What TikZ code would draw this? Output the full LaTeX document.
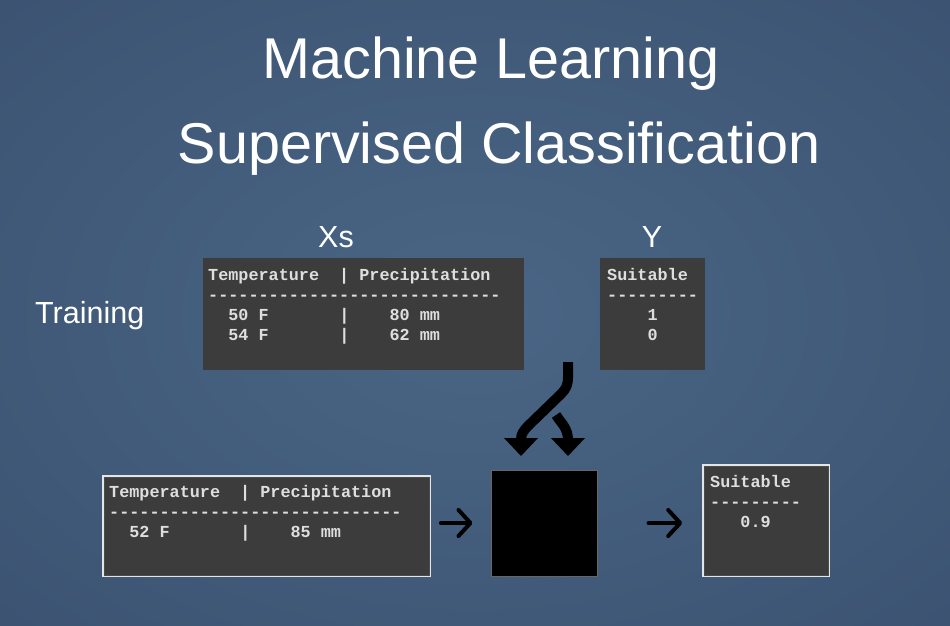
\documentclass[tikz,border=0pt]{standalone}
\usepackage{fontspec}
\setmainfont{Liberation Sans}
\newfontfamily\tabfont{Liberation Mono}[Ligatures=TeXOff]
\usetikzlibrary{arrows.meta}
\definecolor{bgin}{RGB}{74,101,133}
\definecolor{bgmid}{RGB}{60,84,114}
\definecolor{bgout}{RGB}{46,67,94}
\definecolor{tabfill}{RGB}{60,60,60}
\definecolor{tabtxt}{RGB}{222,222,222}
\pgfdeclareradialshading{bgshade}{\pgfpoint{0bp}{0bp}}{color(0bp)=(bgin); color(35bp)=(bgmid); color(72bp)=(bgout)}
\newcommand\tbl[1]{\begin{tabular}[t]{@{}l@{}}#1\end{tabular}}
\begin{document}
\begin{tikzpicture}[x=1pt,y=-1pt,
  title/.style={text=white, inner sep=0pt, anchor=base, font=\fontsize{57.5}{62}\selectfont},
  label/.style={text=white, inner sep=0pt, font=\fontsize{30.5}{34}\selectfont},
  tabbox/.style={fill=tabfill, draw=none, inner sep=0pt},
  framed/.style={tabbox, draw=white!90!black, line width=1.6pt},
  tabtext/.style={anchor=base west, inner sep=0pt, text=tabtxt,
    font=\tabfont\bfseries\fontsize{16.8}{20}\selectfont},
  fat/.style={draw=black, line width=10pt, line cap=butt, line join=round},
  harrow/.style={draw=black, line width=4pt, line cap=round, line join=round,
    -{Straight Barb[length=12pt,width=26pt,line cap=round,line join=round]}}
]
\useasboundingbox (0,0) rectangle (950,626);
\shade[shading=bgshade] (0,0) rectangle (950,626);

\node[title] (t1) at (491,78) {Machine Learning};
\node[title] (t2) at (499,163) {Supervised Classification};
\node[label, anchor=base west] (xs) at (318,247) {Xs};
\node[label, anchor=base] (ylab) at (652,247) {Y};
\node[label, anchor=base west] (train) at (35,323) {Training};

% boxes
\node[tabbox, minimum width=321pt, minimum height=112pt] (xsbox) at (363.5,314) {};
\node[tabbox, minimum width=105pt, minimum height=112pt] (ybox) at (652.5,314) {};
\node[framed, minimum width=327pt, minimum height=100pt] (newbox) at (266.5,526) {};
\node[framed, minimum width=126pt, minimum height=111pt] (outbox) at (766,520.5) {};
\draw[black!70, line width=0.6pt] ([shift={(2pt,2pt)}]newbox.south west) rectangle ([shift={(-2pt,-2pt)}]newbox.north east);
\draw[black!70, line width=0.6pt] ([shift={(2pt,2pt)}]outbox.south west) rectangle ([shift={(-2pt,-2pt)}]outbox.north east);
\node[fill=black, draw=black!60, line width=1pt, minimum width=106pt, minimum height=106pt, inner sep=0pt] (model) at (544,523) {};

% table texts
\node[tabtext] (xstxt) at (208,280) {\tbl{Temperature~~|~Precipitation\\
-----------------------------\\
~~50~F~~~~~~~|~~~~80~mm\\
~~54~F~~~~~~~|~~~~62~mm}};
\node[tabtext] (ytxt) at (607,280) {\tbl{Suitable\\
---------\\
~~~~1\\
~~~~0}};
\node[tabtext] (newtxt) at (109,497) {\tbl{Temperature~~|~Precipitation\\
-----------------------------\\
~~52~F~~~~~~~|~~~~85~mm}};
\node[tabtext] (outtxt) at (710,487) {\tbl{Suitable\\
---------\\
~~~0.9}};

% curved training arrows
\coordinate (c1s) at (568,362);
\coordinate (c1e) at (521,440);
\coordinate (c2s) at (556,415);
\coordinate (c2e) at (568,440);
\draw[fat] (c1s) -- (568,377) .. controls (568,385) and (566,389) .. (561,394)
  -- (529,425) .. controls (523,431) and (521,434) .. (c1e);
\draw[fat] (c2s) .. controls (561,423) and (568,428) .. (c2e);
\fill[black] (504,438) -- (538,438) -- (521,456) -- cycle;
\fill[black] (551,438) -- (585,438) -- (568,456) -- cycle;

% straight arrows
\draw[harrow] ([xshift=10pt]newbox.east |- model.center) -- ([xshift=-18pt]model.west);
\draw[harrow] ([xshift=51pt]model.east) -- ([xshift=-20pt]outbox.west |- model.center);
\end{tikzpicture}
\end{document}
